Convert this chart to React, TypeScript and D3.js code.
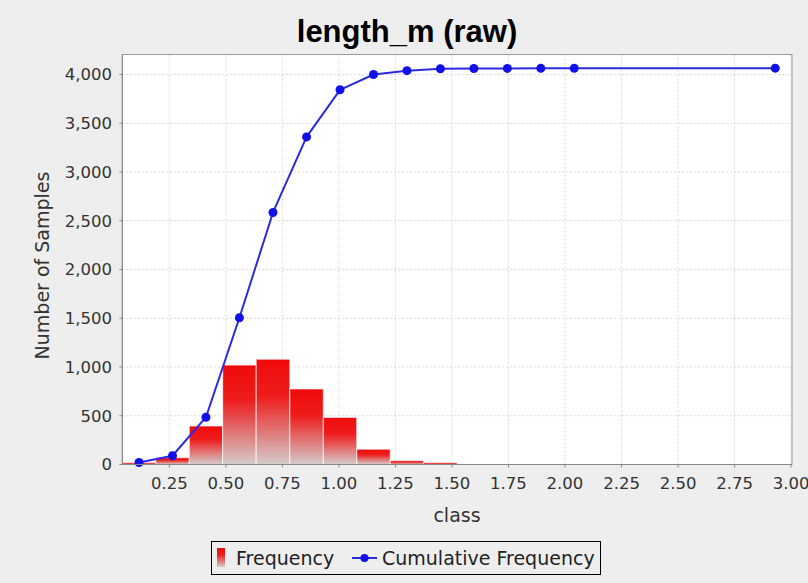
import React from "react";
import * as d3 from "d3";

// Histogram of length_m: 20 equal-width classes between the data min and max
const CLASS_EDGES = [
  0.042, 0.19, 0.338, 0.486, 0.634, 0.783, 0.931, 1.079, 1.227, 1.375, 1.523,
  1.671, 1.819, 1.967, 2.115, 2.264, 2.412, 2.56, 2.708, 2.856, 3.004,
];
const FREQUENCY = [
  20, 70, 395, 1020, 1080, 775, 483, 157, 39, 20, 2, 1, 1, 1, 0, 0, 0, 0, 0, 1,
];
const X_TICKS = [0.25, 0.5, 0.75, 1.0, 1.25, 1.5, 1.75, 2.0, 2.25, 2.5, 2.75, 3.0];
const Y_TICKS = [0, 500, 1000, 1500, 2000, 2500, 3000, 3500, 4000];
const Y_MAX = 4205;

const W = 808;
const H = 583;
const PLOT = { left: 122.3, right: 792, top: 54.5, bottom: 464.5 };
const FONT = "'DejaVu Sans', Verdana, sans-serif";

export default function App() {
  const x = d3.scaleLinear().domain([CLASS_EDGES[0], CLASS_EDGES[CLASS_EDGES.length - 1]]).range([PLOT.left, PLOT.right]);
  const y = d3.scaleLinear().domain([0, Y_MAX]).range([PLOT.bottom, PLOT.top]);

  const bins = FREQUENCY.map((f, i) => ({
    x0: CLASS_EDGES[i],
    x1: CLASS_EDGES[i + 1],
    mid: (CLASS_EDGES[i] + CLASS_EDGES[i + 1]) / 2,
    f,
  }));
  const cum = Array.from(d3.cumsum(FREQUENCY));
  // cumulative series is only reported for non-empty classes
  const cumPts = bins
    .map((b, i) => ({ mid: b.mid, c: cum[i], f: b.f }))
    .filter((p) => p.f > 0);

  const line = d3
    .line<{ mid: number; c: number }>()
    .x((d) => x(d.mid))
    .y((d) => y(d.c));

  const fmt = d3.format(",");
  const fmtX = d3.format(".2f");

  return (
    <svg
      width={W}
      height={H}
      style={{ position: "absolute", left: 0, top: 0, display: "block" }}
      fontFamily={FONT}
    >
      <defs>
        <linearGradient id="barGrad" x1="0" y1="0" x2="0" y2="1">
          <stop offset="0" stopColor="#f00a0a" />
          <stop offset="0.35" stopColor="#ee1c1c" />
          <stop offset="1" stopColor="#d4cccc" />
        </linearGradient>
        <clipPath id="plotClip">
          <rect x={PLOT.left} y={PLOT.top} width={PLOT.right - PLOT.left} height={PLOT.bottom - PLOT.top} />
        </clipPath>
      </defs>
      <rect x={0} y={0} width={W} height={H} fill="#eeeeee" />

      <text
        x={407}
        y={42}
        textAnchor="middle"
        fontFamily="'Liberation Sans', Arial, sans-serif"
        fontWeight="bold"
        fontSize={31}
        fill="#000"
      >
        length_m (raw)
      </text>

      {/* plot background */}
      <rect x={PLOT.left} y={PLOT.top} width={PLOT.right - PLOT.left} height={PLOT.bottom - PLOT.top} fill="#ffffff" />

      {/* grid */}
      <g stroke="#d6d6d6" strokeWidth={1} strokeDasharray="2,2">
        {X_TICKS.map((t) => (
          <line key={"gx" + t} x1={x(t)} x2={x(t)} y1={PLOT.top} y2={PLOT.bottom} />
        ))}
        {Y_TICKS.map((t) => (
          <line key={"gy" + t} x1={PLOT.left} x2={PLOT.right} y1={y(t)} y2={y(t)} />
        ))}
      </g>

      {/* frequency bars */}
      <g clipPath="url(#plotClip)">
        {bins
          .filter((b) => b.f > 0)
          .map((b, i) => (
            <rect
              key={"b" + i}
              x={x(b.x0)}
              y={y(b.f)}
              width={x(b.x1) - x(b.x0)}
              height={y(0) - y(b.f)}
              fill="url(#barGrad)"
              stroke="#ffffff"
              strokeOpacity={0.7}
              strokeWidth={1}
            />
          ))}
      </g>

      {/* cumulative frequency */}
      <path d={line(cumPts) || ""} fill="none" stroke="#2a2ae0" strokeWidth={2} strokeLinejoin="round" />
      {cumPts.map((p, i) => (
        <circle key={"c" + i} cx={x(p.mid)} cy={y(p.c)} r={4.5} fill="#1010e8" />
      ))}

      {/* plot outline */}
      <rect
        x={PLOT.left}
        y={PLOT.top}
        width={PLOT.right - PLOT.left}
        height={PLOT.bottom - PLOT.top}
        fill="none"
        stroke="#9a9a9a"
        strokeWidth={1}
      />

      {/* x axis */}
      <g>
        <line x1={PLOT.left} x2={PLOT.right} y1={PLOT.bottom} y2={PLOT.bottom} stroke="#888" />
        {X_TICKS.map((t) => (
          <g key={"xt" + t}>
            <line x1={x(t)} x2={x(t)} y1={PLOT.bottom} y2={PLOT.bottom + 3} stroke="#888" />
            <text x={x(t)} y={489} textAnchor="middle" fontSize={16.5} fill="#333">
              {fmtX(t)}
            </text>
          </g>
        ))}
        <text x={457} y={522} textAnchor="middle" fontSize={19} fill="#333">
          class
        </text>
      </g>

      {/* y axis */}
      <g>
        <line x1={PLOT.left} x2={PLOT.left} y1={PLOT.top} y2={PLOT.bottom} stroke="#888" />
        {Y_TICKS.map((t) => (
          <g key={"yt" + t}>
            <line x1={PLOT.left - 3} x2={PLOT.left} y1={y(t)} y2={y(t)} stroke="#888" />
            <text x={112} y={y(t)} dy="0.36em" textAnchor="end" fontSize={16.5} fill="#333">
              {fmt(t)}
            </text>
          </g>
        ))}
        <text
          transform={`translate(49, ${(PLOT.top + PLOT.bottom) / 2 + 6}) rotate(-90)`}
          textAnchor="middle"
          fontSize={19}
          fill="#333"
        >
          Number of Samples
        </text>
      </g>

      {/* legend */}
      <g>
        <rect x={211.5} y={541.5} width={389} height={33} fill="#eeeeee" stroke="#000" strokeWidth={1} />
        <rect x={217} y={548} width={8} height={19} fill="url(#barGrad)" />
        <text x={236} y={565} fontSize={19} fill="#222">
          Frequency
        </text>
        <line x1={352} x2={377} y1={558} y2={558} stroke="#2a2ae0" strokeWidth={2} />
        <circle cx={364.5} cy={558} r={4} fill="#1010e8" />
        <text x={382} y={565} fontSize={19} fill="#222">
          Cumulative Frequency
        </text>
      </g>
    </svg>
  );
}
